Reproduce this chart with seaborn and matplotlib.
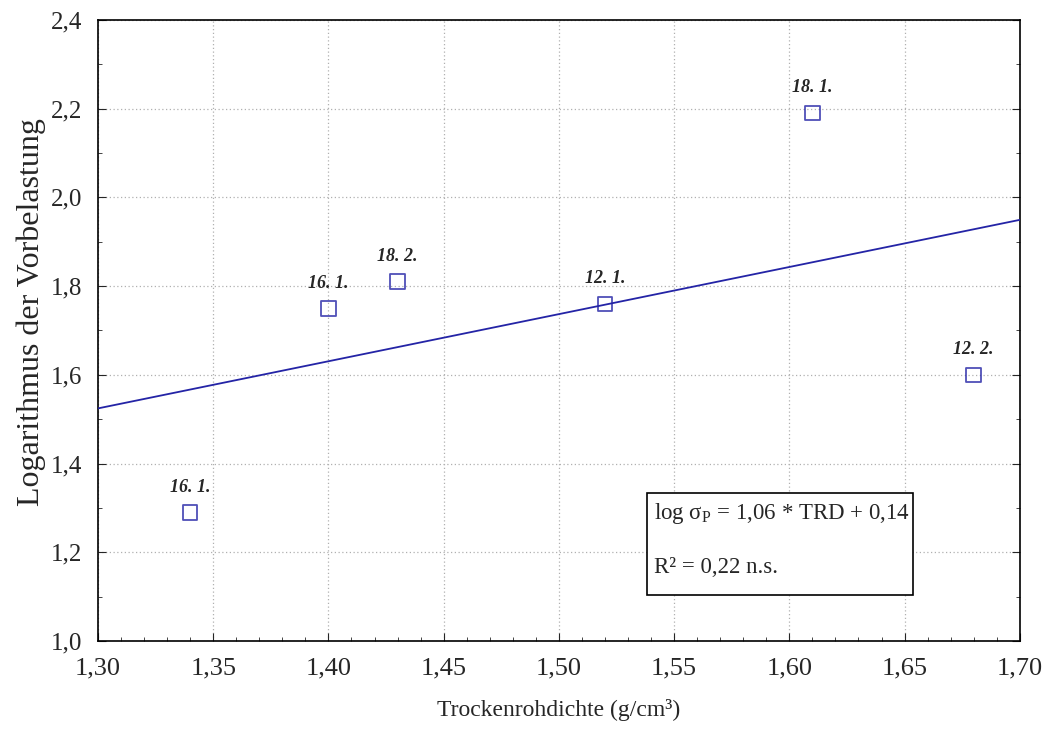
import matplotlib
matplotlib.use("Agg")
import matplotlib.pyplot as plt
import seaborn as sns
import pandas as pd
from matplotlib.ticker import MultipleLocator, FuncFormatter
from matplotlib.patches import Rectangle

trd = [1.34, 1.40, 1.43, 1.52, 1.61, 1.68]
log_vb = [1.29, 1.75, 1.81, 1.76, 2.19, 1.60]
labels = ["16. 1.", "16. 1.", "18. 2.", "12. 1.", "18. 1.", "12. 2."]

df = pd.DataFrame({"TRD": trd, "logVB": log_vb, "label": labels})

sns.set_style("ticks")
plt.rcParams['font.family'] = ['Liberation Serif', 'DejaVu Serif']
plt.rcParams['mathtext.fontset'] = 'custom'
plt.rcParams['mathtext.rm'] = 'Liberation Serif'

fig = plt.figure(figsize=(10.47, 7.34), dpi=100)
ax = fig.add_axes([0.0936, 0.1267, 0.8804, 0.8461])
ax.set_xlim(1.30, 1.70)
ax.set_ylim(1.0, 2.4)

col = "#2424a6"
sns.regplot(data=df, x="TRD", y="logVB", ax=ax, ci=None, truncate=False,
            marker="s",
            scatter_kws=dict(s=110, facecolors="none",
                             edgecolors=col, linewidths=1.3, zorder=4),
            line_kws=dict(color=col, lw=1.3, zorder=3))
ax.set_xlim(1.30, 1.70)
ax.set_ylim(1.0, 2.4)

for x, y, t in zip(trd, log_vb, labels):
    ax.annotate(t, (x, y), xytext=(0, 12), textcoords="offset points",
                ha="center", va="bottom", fontsize=13, fontweight="bold",
                fontstyle="italic")

ax.xaxis.set_major_locator(MultipleLocator(0.05))
ax.xaxis.set_minor_locator(MultipleLocator(0.01))
ax.yaxis.set_major_locator(MultipleLocator(0.2))
ax.yaxis.set_minor_locator(MultipleLocator(0.1))
ax.xaxis.set_major_formatter(FuncFormatter(lambda v, p: f"{v:.2f}".replace(".", ",")))
ax.yaxis.set_major_formatter(FuncFormatter(lambda v, p: f"{v:.1f}".replace(".", ",")))
ax.tick_params(which="both", direction="in", right=True, top=False)
ax.tick_params(axis="y", labelsize=18, pad=11)
ax.tick_params(axis="x", labelsize=19, pad=12)
ax.tick_params(which="major", length=6)
ax.tick_params(which="minor", length=3)
ax.grid(True, which="major", linestyle=(0, (1, 2)), color="#b0b0b0", lw=0.9)
for s in ax.spines.values():
    s.set_visible(True)
    s.set_color("black")
    s.set_linewidth(1.2)

ax.set_xlabel("Trockenrohdichte (g/cm³)", fontsize=17, labelpad=14)
ax.set_ylabel("Logarithmus der Vorbelastung", fontsize=23)
ax.yaxis.set_label_coords(-0.056, 0.53)

ax.add_patch(Rectangle((0.5954, 0.0741), 0.2885, 0.1643, transform=ax.transAxes,
                       facecolor="white", edgecolor="black", lw=1.2, zorder=6))
ax.text(0.603, 0.206, "log σ$_\\mathrm{P}$ = 1,06 * TRD + 0,14",
        transform=ax.transAxes, fontsize=16.5, va="center", ha="left", zorder=7)
ax.text(0.603, 0.1176, "R² = 0,22 n.s.",
        transform=ax.transAxes, fontsize=16.5, va="center", ha="left", zorder=7)

fig.savefig("out.png", dpi=100)
